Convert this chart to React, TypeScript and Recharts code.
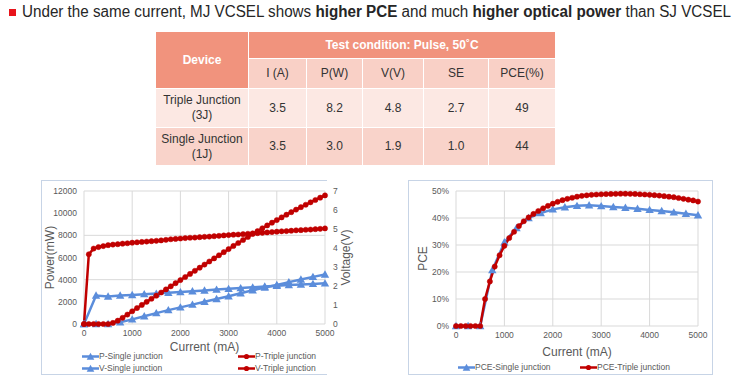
import React from 'react'
import { LineChart, Line, XAxis, YAxis, CartesianGrid } from 'recharts'

const BLUE = '#5B8DDB'
const RED = '#C00000'
const GRID = '#D9D9D9'
const TICK = { fontSize: 8.5, fill: '#595959' }
const TITLE_STYLE = { fontSize: 12, fill: '#595959' }
const FONT = '"Liberation Sans", Arial, sans-serif'

// currents (mA)
const CURRENT_FINE = [
  0, 100, 200, 300, 400, 500, 600, 700, 800, 900, 1000, 1100, 1200, 1300, 1400, 1500, 1600, 1700,
  1800, 1900, 2000, 2100, 2200, 2300, 2400, 2500, 2600, 2700, 2800, 2900, 3000, 3100, 3200, 3300,
  3400, 3500, 3600, 3700, 3800, 3900, 4000, 4100, 4200, 4300, 4400, 4500, 4600, 4700, 4800, 4900, 5000,
]
const CURRENT_COARSE = [
  0, 250, 500, 750, 1000, 1250, 1500, 1750, 2000, 2250, 2500, 2750, 3000, 3250, 3500, 3750, 4000,
  4250, 4500, 4750, 5000,
]

// power (mW)
const P_SINGLE = [0, 0, 0, 150, 420, 700, 980, 1250, 1500, 1750, 2000, 2250, 2500, 2780, 3050, 3300, 3520, 3780, 4020, 4250, 4470]
const P_TRIPLE = [
  0, 0, 0, 0, 0, 0, 100, 300, 560, 850, 1150, 1440, 1720, 2000, 2280, 2560, 2840, 3120, 3400, 3680,
  3960, 4240, 4520, 4800, 5080, 5360, 5640, 5920, 6200, 6480, 6760, 7040, 7310, 7580, 7850, 8120,
  8380, 8640, 8890, 9140, 9380, 9620, 9860, 10090, 10320, 10540, 10760, 10980, 11190, 11400, 11600,
]
// voltage (V)
const V_SINGLE = [0, 1.5, 1.45, 1.5, 1.53, 1.57, 1.6, 1.64, 1.68, 1.72, 1.76, 1.81, 1.85, 1.89, 1.93, 1.97, 2.01, 2.05, 2.08, 2.11, 2.14]
const V_TRIPLE = [
  0, 3.67, 3.97, 4.05, 4.1, 4.15, 4.18, 4.2, 4.23, 4.25, 4.28, 4.3, 4.32, 4.34, 4.36, 4.38, 4.4,
  4.43, 4.46, 4.48, 4.5, 4.52, 4.54, 4.55, 4.57, 4.59, 4.6, 4.62, 4.64, 4.66, 4.68, 4.7, 4.71, 4.73,
  4.75, 4.77, 4.78, 4.8, 4.82, 4.84, 4.86, 4.88, 4.89, 4.91, 4.93, 4.94, 4.96, 4.97, 4.99, 5.01, 5.03,
]
// PCE (%)
const PCE_SINGLE = [0, 0, 0, 20.7, 31, 36.3, 40, 41.8, 43.2, 44, 44.5, 44.7, 44.4, 44.1, 43.8, 43.4, 43, 42.6, 42.1, 41.6, 41]
const PCE_TRIPLE = [
  0, 0, 0, 0, 0, 0, 10, 16.5, 22, 26.2, 29.7, 32.6, 34.9, 37, 38.8, 40.2, 41.5, 42.6, 43.6, 44.5,
  45.3, 46, 46.6, 47.1, 47.5, 47.9, 48.2, 48.4, 48.6, 48.7, 48.8, 48.85, 48.9, 48.95, 49, 49, 48.95,
  48.9, 48.8, 48.7, 48.6, 48.45, 48.3, 48.1, 47.9, 47.7, 47.4, 47.1, 46.8, 46.5, 46.1,
]

const X_TICKS = [0, 1000, 2000, 3000, 4000, 5000]
const POWER_TICKS = [0, 2000, 4000, 6000, 8000, 10000, 12000]
const VOLT_TICKS = [0, 1, 2, 3, 4, 5, 6, 7]
const PCE_TICKS = [0, 5, 10, 15, 20, 25, 30, 35, 40, 45, 50]

// table
const TABLE_PARAMS = ['I (A)', 'P(W)', 'V(V)', 'SE', 'PCE(%)']
const TABLE_ROWS = [
  { device: ['Triple Junction', '(3J)'], values: ['3.5', '8.2', '4.8', '2.7', '49'] },
  { device: ['Single Junction', '(1J)'], values: ['3.5', '3.0', '1.9', '1.0', '44'] },
]

const toPoints = (xs: number[], ys: number[], key: string) => xs.map((x, i) => ({ current: x, [key]: ys[i] }))

const pSingleData = toPoints(CURRENT_COARSE, P_SINGLE, 'pSingle')
const pTripleData = toPoints(CURRENT_FINE, P_TRIPLE, 'pTriple')
const vSingleData = toPoints(CURRENT_COARSE, V_SINGLE, 'vSingle')
const vTripleData = toPoints(CURRENT_FINE, V_TRIPLE, 'vTriple')
const pceSingleData = toPoints(CURRENT_COARSE, PCE_SINGLE, 'pceSingle')
const pceTripleData = toPoints(CURRENT_FINE, PCE_TRIPLE, 'pceTriple')

function TriangleDot(props: any) {
  const { cx, cy } = props
  if (cx == null || cy == null) return <g />
  return <path d={`M${cx},${cy - 4.2}L${cx + 4.2},${cy + 3.2}L${cx - 4.2},${cy + 3.2}Z`} fill={BLUE} />
}

const RED_DOT = { r: 2.6, fill: RED, stroke: RED, strokeWidth: 0.5 }

function LegendItem({ color, triangle, label, left, top }: any) {
  return (
    <div style={{ position: 'absolute', left, top, display: 'flex', alignItems: 'center', fontSize: 8.5, color: '#595959' }}>
      <svg width={17} height={9} style={{ display: 'block' }}>
        <line x1={0} y1={4.5} x2={17} y2={4.5} stroke={color} strokeWidth={2.5} />
        {triangle ? (
          <path d="M8.5,0.8L12.3,7.8L4.7,7.8Z" fill={color} />
        ) : (
          <circle cx={8.5} cy={4.5} r={2.6} fill={color} />
        )}
      </svg>
      <span>{label}</span>
    </div>
  )
}

function SpecTable() {
  const head = { background: '#F1937D', color: '#fff', fontWeight: 'bold' as const }
  const sub = { background: '#F9D0C6' }
  const cell = { border: '1px solid #fff', textAlign: 'center' as const, padding: 0 }
  return (
    <table
      style={{
        position: 'absolute', left: 155, top: 31, width: 400, borderCollapse: 'collapse', tableLayout: 'fixed',
        fontSize: 12, color: '#333', lineHeight: '15px',
      }}
    >
      <colgroup>
        <col style={{ width: 93 }} />
        <col style={{ width: 58 }} />
        <col style={{ width: 56 }} />
        <col style={{ width: 61 }} />
        <col style={{ width: 65 }} />
        <col style={{ width: 67 }} />
      </colgroup>
      <tbody>
        <tr style={{ height: 27 }}>
          <td rowSpan={2} style={{ ...cell, ...head }}>Device</td>
          <td colSpan={5} style={{ ...cell, ...head }}>Test condition: Pulse, 50˚C</td>
        </tr>
        <tr style={{ height: 30 }}>
          {TABLE_PARAMS.map(p => (
            <td key={p} style={{ ...cell, ...sub }}>{p}</td>
          ))}
        </tr>
        {TABLE_ROWS.map((row, r) => (
          <tr key={r} style={{ height: r === 0 ? 39 : 38 }}>
            <td style={{ ...cell, background: r === 0 ? '#FCE8E3' : '#F9D3CA' }}>
              {row.device[0]}
              <br />
              {row.device[1]}
            </td>
            {row.values.map((v, i) => (
              <td key={i} style={{ ...cell, background: r === 0 ? '#FCE8E3' : '#F9D3CA' }}>{v}</td>
            ))}
          </tr>
        ))}
      </tbody>
    </table>
  )
}

function PowerVoltageChart() {
  return (
    <>
      <div
        style={{
          position: 'absolute', left: 41, top: 180, width: 285, height: 193,
          borderTop: '1px solid #C7D4E6', borderLeft: '1px solid #C7D4E6', borderBottom: '1px solid #C7D4E6',
        }}
      />
      <div style={{ position: 'absolute', left: 41, top: 180 }}>
        <LineChart width={320} height={194} margin={{ top: 11, right: 4, bottom: 20, left: 5 }}>
          <CartesianGrid stroke={GRID} yAxisId="left" />
          <XAxis
            type="number"
            dataKey="current"
            domain={[0, 5000]}
            ticks={X_TICKS}
            tick={TICK}
            tickLine={false}
            axisLine={false}
            tickSize={0}
            tickMargin={6}
            height={30}
            label={{ value: 'Current (mA)', position: 'insideBottom', offset: 3, style: TITLE_STYLE }}
          />
          <YAxis
            yAxisId="left"
            domain={[0, 12000]}
            ticks={POWER_TICKS}
            tick={TICK}
            tickLine={false}
            axisLine={false}
            tickSize={0}
            tickMargin={7}
            width={38}
            label={{ value: 'Power(mW)', angle: -90, position: 'insideLeft', offset: 4, style: { ...TITLE_STYLE, textAnchor: 'middle' } }}
          />
          <YAxis
            yAxisId="right"
            orientation="right"
            domain={[0, 7]}
            ticks={VOLT_TICKS}
            tick={TICK}
            tickLine={false}
            axisLine={false}
            tickSize={0}
            tickMargin={8}
            width={32}
            label={{ value: 'Voltage(V)', angle: -90, position: 'insideRight', offset: 11, style: { ...TITLE_STYLE, textAnchor: 'middle' } }}
          />
          <Line yAxisId="left" data={pSingleData} dataKey="pSingle" type="linear" stroke={BLUE} strokeWidth={2.5} dot={<TriangleDot />} isAnimationActive={false} />
          <Line yAxisId="right" data={vSingleData} dataKey="vSingle" type="linear" stroke={BLUE} strokeWidth={2.5} dot={<TriangleDot />} isAnimationActive={false} />
          <Line yAxisId="left" data={pTripleData} dataKey="pTriple" type="linear" stroke={RED} strokeWidth={2.5} dot={RED_DOT} isAnimationActive={false} />
          <Line yAxisId="right" data={vTripleData} dataKey="vTriple" type="linear" stroke={RED} strokeWidth={2.5} dot={RED_DOT} isAnimationActive={false} />
        </LineChart>
      </div>
      <LegendItem color={BLUE} triangle label="P-Single junction" left={82} top={351} />
      <LegendItem color={RED} label="P-Triple junction" left={238} top={351} />
      <LegendItem color={BLUE} triangle label="V-Single junction" left={82} top={363} />
      <LegendItem color={RED} label="V-Triple junction" left={238} top={363} />
    </>
  )
}

function PceChart() {
  return (
    <>
      <div
        style={{
          position: 'absolute', left: 408, top: 180, width: 303, height: 193, border: '1px solid #C7D4E6',
        }}
      />
      <div style={{ position: 'absolute', left: 408, top: 180 }}>
        <LineChart width={304} height={194} margin={{ top: 11, right: 14, bottom: 18, left: 5 }}>
          <CartesianGrid stroke={GRID} />
          <XAxis
            type="number"
            dataKey="current"
            domain={[0, 5000]}
            ticks={X_TICKS}
            tick={TICK}
            tickLine={false}
            axisLine={false}
            tickSize={0}
            tickMargin={6}
            height={30}
            label={{ value: 'Current (mA)', position: 'insideBottom', offset: 0, style: TITLE_STYLE }}
          />
          <YAxis
            domain={[0, 50]}
            ticks={PCE_TICKS}
            tickFormatter={(v: number) => `${v}%`}
            tick={TICK}
            tickLine={false}
            axisLine={false}
            tickSize={0}
            tickMargin={7}
            width={43}
            label={{ value: 'PCE', angle: -90, position: 'insideLeft', offset: 10, style: { ...TITLE_STYLE, textAnchor: 'middle' } }}
          />
          <Line data={pceSingleData} dataKey="pceSingle" type="linear" stroke={BLUE} strokeWidth={2.5} dot={<TriangleDot />} isAnimationActive={false} />
          <Line data={pceTripleData} dataKey="pceTriple" type="linear" stroke={RED} strokeWidth={2.5} dot={RED_DOT} isAnimationActive={false} />
        </LineChart>
      </div>
      <LegendItem color={BLUE} triangle label="PCE-Single junction" left={458} top={362} />
      <LegendItem color={RED} label="PCE-Triple junction" left={580} top={362} />
    </>
  )
}

export default function App() {
  return (
    <div
      style={{
        position: 'fixed', left: 0, top: 0, width: 739, height: 379, background: '#fff', overflow: 'hidden',
        fontFamily: FONT,
      }}
    >
      <div style={{ position: 'absolute', left: 9, top: 9, width: 7, height: 7, background: '#E8141B' }} />
      <div
        style={{
          position: 'absolute', left: 22, top: 3, fontSize: 16, color: '#262626', whiteSpace: 'nowrap',
          transform: 'scaleX(0.95)', transformOrigin: 'left center',
        }}
      >
        Under the same current, MJ VCSEL shows <b>higher PCE</b> and much <b>higher optical power</b> than SJ VCSEL
      </div>
      <SpecTable />
      <PowerVoltageChart />
      <PceChart />
    </div>
  )
}
